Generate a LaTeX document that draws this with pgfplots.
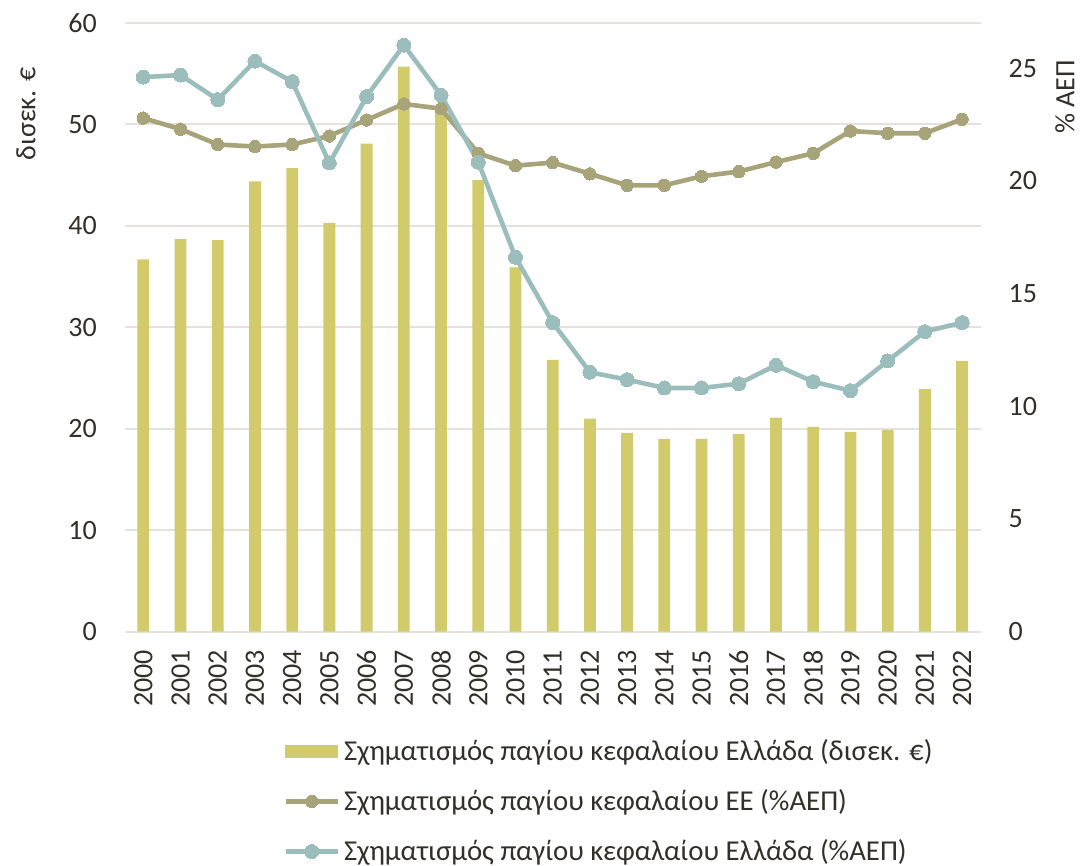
\documentclass[border=0pt]{standalone}
\usepackage{fontspec}
\setmainfont{Carlito}
\usepackage{pgfplots}
\usepackage{pgfplotstable}
\pgfplotsset{compat=1.18}

\definecolor{barcol}{RGB}{210,203,108}
\definecolor{eucol}{RGB}{168,164,121}
\definecolor{grcol}{RGB}{155,190,189}
\definecolor{gridcol}{RGB}{230,226,219}
\definecolor{txtcol}{RGB}{51,48,43}

% year index, Greece (bn EUR), EU (%GDP), Greece (%GDP)
\pgfplotstableread{
x  bn    eu     gr
0  36.7  22.78  24.60
1  38.7  22.29  24.69
2  38.6  21.61  23.60
3  44.4  21.52  25.31
4  45.7  21.61  24.40
5  40.3  21.99  20.79
6  48.1  22.70  23.74
7  55.7  23.41  26.02
8  51.4  23.20  23.80
9  44.5  21.22  20.83
10 35.9  20.67  16.61
11 26.8  20.81  13.71
12 21.0  20.31  11.51
13 19.6  19.80  11.18
14 19.0  19.80  10.81
15 19.0  20.20  10.81
16 19.5  20.41  11.00
17 21.1  20.83  11.82
18 20.2  21.22  11.09
19 19.7  22.21  10.69
20 19.9  22.11  12.01
21 23.9  22.11  13.31
22 26.7  22.73  13.71
}\data

\pgfplotsset{
  common/.style={
    at={(62.35pt,117.15pt)}, anchor=south west,
    scale only axis, width=428pt, height=304.35pt,
    xmin=-0.5, xmax=22.5,
    axis line style={draw=none},
    major tick length=0pt,
    tick label style={inner sep=0pt, text=txtcol, font=\fontsize{14}{16}\selectfont},
    /pgf/number format/assume math mode=true,
  },
}

\begin{document}
\begin{tikzpicture}[text=txtcol]
\path[use as bounding box] (0,0) rectangle (542pt,433pt);

\begin{axis}[common,
  ymin=0, ymax=60, ytick={0,10,...,60},
  ymajorgrids, grid style={gridcol, line width=1pt},
  yticklabel shift=13.8pt,
  xtick={0,...,22},
  xticklabels={2000,2001,2002,2003,2004,2005,2006,2007,2008,2009,2010,2011,2012,2013,2014,2015,2016,2017,2018,2019,2020,2021,2022},
  xticklabel style={rotate=90, anchor=east},
  xticklabel shift=9pt,
]
\addplot[ybar, bar width=5.9pt, fill=barcol, draw=none] table[x=x, y=bn]{\data};
\end{axis}

\begin{axis}[common,
  ymin=0, ymax=27, ytick={0,5,...,25},
  axis y line*=right, hide x axis,
  yticklabel shift=13.8pt,
  legend style={draw=none, fill=none, at={(0.178,-0.163)}, anchor=north west,
    font=\fontsize{14.4}{16}\selectfont, row sep=9pt, text=txtcol,
    /tikz/every even column/.append style={column sep=-1.5pt}},
  legend cell align=left,
  legend image code/.code={\draw[mark repeat=2, mark phase=2, #1] plot coordinates {(0pt,0pt) (13pt,0pt) (26pt,0pt)};},
]
\addlegendimage{legend image code/.code={\fill[barcol] (0pt,-3.1pt) rectangle (26pt,3.1pt);}}
\addlegendentry{Σχηματισμός παγίου κεφαλαίου Ελλάδα (δισεκ. €)}
\addplot[eucol, line width=2.3pt, mark=*, mark size=3.1pt, mark options={fill=eucol, draw=eucol, line width=0pt}] table[x=x, y=eu]{\data};
\addlegendentry{Σχηματισμός παγίου κεφαλαίου ΕΕ (\%ΑΕΠ)}
\addplot[grcol, line width=2.3pt, mark=*, mark size=3.5pt, mark options={fill=grcol, draw=grcol, line width=0pt}] table[x=x, y=gr]{\data};
\addlegendentry{Σχηματισμός παγίου κεφαλαίου Ελλάδα (\%ΑΕΠ)}
\end{axis}

\node[rotate=90, font=\fontsize{14}{16}\selectfont] at (13pt,376pt) {δισεκ. €};
\node[rotate=90, font=\fontsize{14}{16}\selectfont] at (532.5pt,384.5pt) {\% ΑΕΠ};
\end{tikzpicture}
\end{document}
